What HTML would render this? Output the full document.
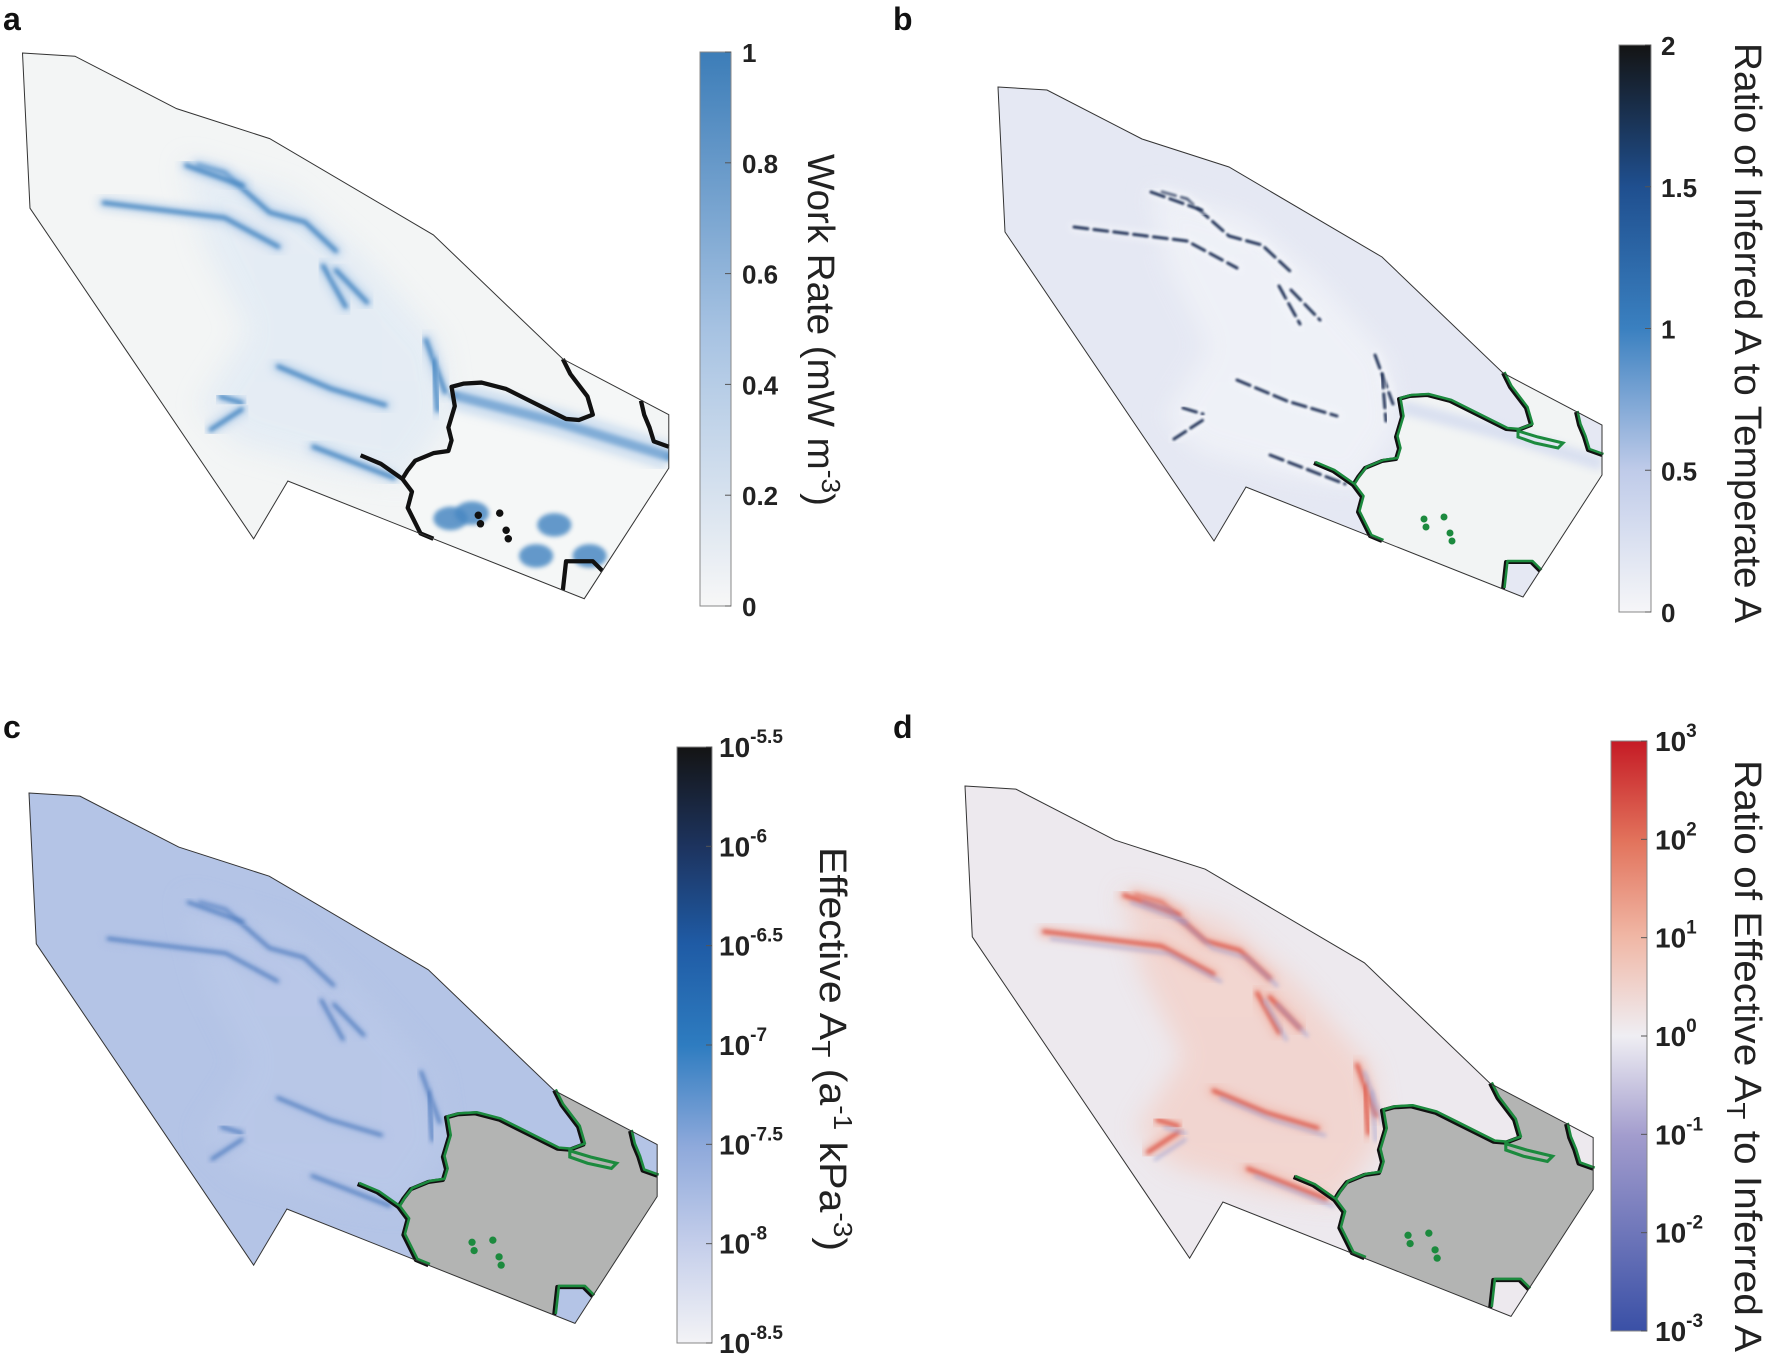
<!DOCTYPE html>
<html><head><meta charset="utf-8"><style>
html,body{margin:0;padding:0;background:#fff;}
svg{display:block;}
text{font-family:"Liberation Sans",sans-serif;}
</style></head>
<body>
<svg id="fig" width="1770" height="1360" viewBox="0 0 1770 1360" xmlns="http://www.w3.org/2000/svg">
<defs>
<filter id="blur2" x="-20%" y="-20%" width="140%" height="140%"><feGaussianBlur stdDeviation="2"/></filter>
<filter id="blur1" x="-20%" y="-20%" width="140%" height="140%"><feGaussianBlur stdDeviation="1"/></filter>
<filter id="blur4" x="-20%" y="-20%" width="140%" height="140%"><feGaussianBlur stdDeviation="4"/></filter>
<filter id="blur12" x="-30%" y="-30%" width="160%" height="160%"><feGaussianBlur stdDeviation="12"/></filter>
<linearGradient id="cbA" x1="0" y1="1" x2="0" y2="0"><stop offset="0" stop-color="#f7f7f7"/><stop offset="0.5" stop-color="#a6c2e2"/><stop offset="1" stop-color="#3c7db8"/></linearGradient>
<linearGradient id="cbB" x1="0" y1="1" x2="0" y2="0"><stop offset="0" stop-color="#f6f6f8"/><stop offset="0.25" stop-color="#bfcbe9"/><stop offset="0.5" stop-color="#3a80c0"/><stop offset="0.75" stop-color="#1f4f8f"/><stop offset="1" stop-color="#141414"/></linearGradient>
<linearGradient id="cbC" x1="0" y1="1" x2="0" y2="0"><stop offset="0" stop-color="#f3f3f6"/><stop offset="0.17" stop-color="#c3cdea"/><stop offset="0.33" stop-color="#8ea9db"/><stop offset="0.5" stop-color="#2e7cc0"/><stop offset="0.67" stop-color="#1f5ba5"/><stop offset="0.83" stop-color="#1d3460"/><stop offset="1" stop-color="#141414"/></linearGradient>
<linearGradient id="cbD" x1="0" y1="1" x2="0" y2="0"><stop offset="0" stop-color="#3a50a6"/><stop offset="0.33" stop-color="#a29ccd"/><stop offset="0.5" stop-color="#efeef3"/><stop offset="0.67" stop-color="#f0b6a4"/><stop offset="0.83" stop-color="#e2735c"/><stop offset="1" stop-color="#c51b25"/></linearGradient>
</defs>
</svg>
<script>
const NS='http://www.w3.org/2000/svg';
const svg=document.getElementById('fig');
// map outline template (relative units)
const outline=[[0,0],[49,3],[144,52],[231,80],[384,170],[505,286],[604,338],[604,388],[525,510],[248,400],[216,454],[7,145]];
// grounding line contour (edge -> lobe -> bottom edge)
const groundLine=[[505,286],[512,300],[528,321],[533,338],[520,343],[508,342],[490,333],[474,325],[452,314],[429,308],[412,309],[401,312],[404,330],[398,350],[401,362],[398,372],[384,374],[367,381],[360,390],[355,398],[364,410],[360,425],[372,449],[384,454]];
const westLine=[[316,376],[335,384],[355,398]];
const eastLine=[[578,325],[581,338],[586,350],[590,363],[604,368]];
const boxLine=[[505,502],[508,475],[533,475],[542,484]];
const tongue=[[520,344],[540,350],[565,356],[560,361],[537,356],[520,350]];
const islands=[[426,432],[428,440],[446,430],[452,446],[454,454]];
// streak polylines (relative units)
const streaks=[
 [[164,105],[189,112],[231,149],[264,158],[293,185]],
 [[281,199],[302,237]],
 [[293,203],[322,233]],
 [[239,293],[289,314],[339,329]],
 [[377,268],[395,317]],
 [[272,368],[347,397]],
 [[185,321],[205,327]],
 [[176,352],[205,333]],
 [[76,140],[189,154],[239,181]],
 [[153,105],[206,124]],
 [[384,287],[388,334]]
];
const disturbedZone=[[150,100],[250,130],[320,190],[390,270],[400,340],[360,400],[290,390],[200,365],[165,330],[210,260],[170,180]];
const shelfStreak=[[404,320],[500,345],[604,377]];
const shelfBlobs=[[400,435],[420,430],[497,441],[480,470],[530,470]];
// panels
const panelNames=['a','b','c','d'];
const panelOrigin=[[22.5,53],[998,87],[29,793],[965,786]];
const panelScale=[1.07,1.0,1.04,1.04];
// colorbar tick labels
const ticksA=['0','0.2','0.4','0.6','0.8','1'];
const ticksB=['0','0.5','1','1.5','2'];
const ticksCExp=['-8.5','-8','-7.5','-7','-6.5','-6','-5.5'];
const ticksDExp=['-3','-2','-1','0','1','2','3'];

function el(tag,attrs,parent){const e=document.createElementNS(NS,tag);for(const k in attrs)e.setAttribute(k,attrs[k]);(parent||svg).appendChild(e);return e;}
function pts(a){return a.map(p=>p[0]+','+p[1]).join(' ');}

const style={
 a:{fill:'#f3f5f5',shelf:'#f5f7f7',streak:'#3b7fbd',sw:4,halo:'#a9c7e8',hw:12,line:'#111',green:false,zone:'#dfe9f4',zo:0.7},
 b:{fill:'#e5e8f3',shelf:'#f2f4f4',streak:'#0f2248',sw:3,halo:'#f8f9fc',hw:9,line:'#111',green:true,zone:'#f1f3f8',zo:0.8},
 c:{fill:'#b4c4e6',shelf:'#b3b4b3',streak:'#2a64b0',sw:2.5,halo:'#a4b8e2',hw:8,line:'#111',green:true,zone:'#bccae9',zo:0.6},
 d:{fill:'#ede9ee',shelf:'#b3b4b3',streak:'#dc4f3f',sw:4,halo:'#f0b8ac',hw:14,line:'#111',green:true,zone:'#f3cfc6',zo:0.75}
};

panelNames.forEach((n,i)=>{
 const st=style[n];const o=panelOrigin[i];const s=panelScale[i];
 const g=el('g',{transform:`translate(${o[0]},${o[1]}) scale(${s})`});
 
 
 const cid='clip'+n;
 const cp=el('clipPath',{id:cid},g);el('polygon',{points:pts(outline)},cp);
 const poly=el('polygon',{points:pts(outline),fill:st.fill},g);
 
 
 const inner=el('g',{'clip-path':`url(#${cid})`},g);
 const z=el('polygon',{points:pts(disturbedZone),fill:st.zone,opacity:st.zo,filter:'url(#blur12)'},inner);
 
 
 // shelf region
 const shelfPoly=groundLine.concat([[525,510],[604,388]]).concat(eastLine.slice().reverse());
 const sh=el('polygon',{points:pts(shelfPoly),fill:st.shelf},inner);
 
 
 el('polygon',{points:pts(boxLine.concat([[525,510]])),fill:st.fill},inner);
 el('polygon',{points:pts([[604,368],[604,338],[578,325]]),fill:st.fill},inner);
 // streaks
 const sg=el('g',{},inner);
 
 
 streaks.forEach(sk=>{
  el('polyline',{points:pts(sk),fill:'none',stroke:st.halo,'stroke-width':st.hw,'stroke-linecap':'round','stroke-linejoin':'round',opacity:0.6,filter:'url(#blur4)'},sg);
  el('polyline',{points:pts(sk),fill:'none',stroke:st.streak,'stroke-width':st.sw,'stroke-linecap':'round','stroke-linejoin':'round',opacity:0.9,'stroke-dasharray':n==='b'?'14 6':'none',filter:n==='b'?'url(#blur1)':'url(#blur2)'},sg);
 });
 if(n==='d'){
  streaks.forEach(sk=>{
   el('polyline',{points:pts(sk.map(p=>[p[0]+7,p[1]+7])),fill:'none',stroke:'#9ea3d4','stroke-width':3,'stroke-linecap':'round',opacity:0.7,filter:'url(#blur2)'},sg);
  });
 }
 if(n==='a'){
  el('polyline',{points:pts(shelfStreak),fill:'none',stroke:'#3b7fbd','stroke-width':9,'stroke-linecap':'round',opacity:0.85,filter:'url(#blur2)'},sg);
  el('polyline',{points:pts(shelfStreak),fill:'none',stroke:'#a9c7e8','stroke-width':26,opacity:0.5,filter:'url(#blur4)'},sg);
  shelfBlobs.forEach(b=>{el('ellipse',{cx:b[0],cy:b[1],rx:16,ry:11,fill:'#4a88c2',opacity:0.85,filter:'url(#blur2)'},sg);});
 }
 if(n==='b'){
  el('polyline',{points:pts(shelfStreak),fill:'none',stroke:'#c9d3ee','stroke-width':14,opacity:0.6,filter:'url(#blur4)'},sg);
 }
 // contours
 const lines=[groundLine,westLine,eastLine,boxLine];
 const cg=el('g',{},g);
 
 
 lines.forEach(l=>{
  el('polyline',{points:pts(l),fill:'none',stroke:st.line,'stroke-width':4,'stroke-linejoin':'round'},cg);
  if(st.green) el('polyline',{points:pts(l.map(p=>[p[0]+1.5,p[1]-1])),fill:'none',stroke:'#1c8a3e','stroke-width':2.5,'stroke-linejoin':'round'},cg);
 });
 if(st.green) el('polygon',{points:pts(tongue),fill:'none',stroke:'#1c8a3e','stroke-width':3},cg);
 islands.forEach(p=>{el('circle',{cx:p[0],cy:p[1],r:3.5,fill:st.green?'#1c8a3e':'#111'},cg);});
 el('polygon',{points:pts(outline),fill:'none',stroke:'#333','stroke-width':1,'vector-effect':'non-scaling-stroke'},g);
});

// panel letters
const letterPos=[[3,30],[893,30],[3,738],[893,738]];
panelNames.forEach((n,i)=>{
 const t=el('text',{x:letterPos[i][0],y:letterPos[i][1],'font-size':32,'font-weight':'bold',fill:'#111'});
 t.textContent=n;
 
 
});

// colorbars
function colorbar(id,x,y0,y1,w,grad,labels,isPow,labX,title,tc,tlen){
 const g=el('g',{});
 
 
 el('rect',{x:x,y:y0,width:w,height:y1-y0,fill:`url(#${grad})`,stroke:'#888','stroke-width':1},g);
 labels.forEach((lb,i)=>{
  const y=y1-(y1-y0)*i/(labels.length-1);
  el('line',{x1:x+w-6,x2:x+w,y1:y,y2:y,stroke:'#555','stroke-width':1},g);
  const t=el('text',{x:labX,y:y+10,'font-size':isPow?28:26,'font-weight':'bold',fill:'#222'},g);
  
  
  if(isPow){
   t.textContent='10';
   const sp=el('tspan',{dy:-14,'font-size':19},t);sp.textContent=lb;
  } else t.textContent=lb;
 });
 const tt=el('text',{x:0,y:0,'font-size':38,fill:'#222',transform:`translate(${tc[0]},${tc[1]}) rotate(90)`,'text-anchor':'middle',textLength:tlen,lengthAdjust:'spacingAndGlyphs'},g);
 
 
 title(tt);
}
function sup(t,txt,base){const s=el('tspan',{dy:-14,'font-size':26},t);s.textContent=txt;const b=el('tspan',{dy:14},t);b.textContent=base;}
function sub(t,txt,base){const s=el('tspan',{dy:8,'font-size':26},t);s.textContent=txt;const b=el('tspan',{dy:-8},t);b.textContent=base;}

colorbar('a',700,52,606,31,'cbA',ticksA,false,742,t=>{t.textContent='Work Rate (mW m';sup(t,'-3',')');},[808,330],352);
colorbar('b',1619,45,612,32,'cbB',ticksB,false,1661,t=>{t.textContent='Ratio of Inferred A to Temperate A';},[1735,333],580);
colorbar('c',677,747,1343,35,'cbC',ticksCExp,true,719,t=>{t.textContent='Effective A';sub(t,'T',' (a');sup(t,'-1',' kPa');sup(t,'-3',')');},[820,1049],404);
colorbar('d',1611,741,1331,36,'cbD',ticksDExp,true,1655,t=>{t.textContent='Ratio of Effective A';sub(t,'T',' to Inferred A');},[1735,1056],592);
</script>
</body></html>
